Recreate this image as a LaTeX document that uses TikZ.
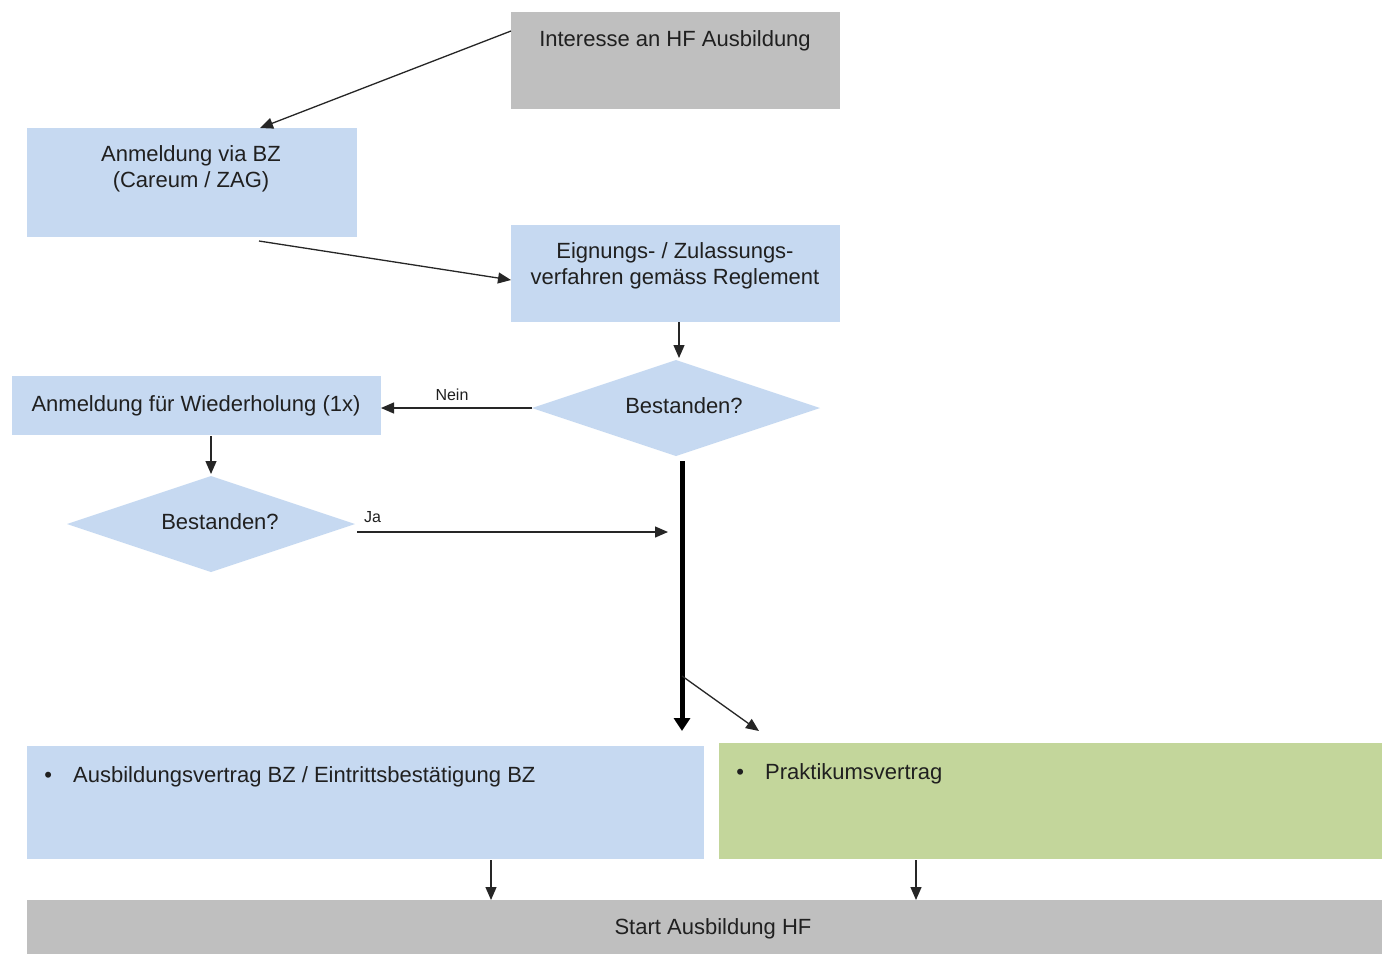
\documentclass[tikz,border=0pt]{standalone}
\usepackage{fontspec}
\setmainfont{Liberation Sans}
\usetikzlibrary{shapes.geometric,arrows.meta,calc}
\definecolor{boxblue}{HTML}{C6D9F1}
\definecolor{boxgray}{HTML}{BFBFBF}
\definecolor{boxgreen}{HTML}{C3D69B}
\definecolor{txtcol}{HTML}{202020}
\begin{document}
\begin{tikzpicture}[x=1pt,y=-1pt,
  box/.style={draw=none,inner sep=0pt,outer sep=0pt,anchor=north west},
  txt/.style={inner sep=0pt,text=txtcol,font=\fontsize{22}{25.5}\selectfont,align=center},
  small/.style={inner sep=0pt,text=txtcol,font=\fontsize{16}{18}\selectfont},
  dia/.style={diamond,fill=boxblue,draw=none,inner sep=0pt,outer sep=0pt,minimum width=288pt,minimum height=96pt},
  arr/.style={draw=black!85,line width=1.3pt,-{Triangle[length=13pt,width=11pt]}},
  thick arr/.style={draw=black,line width=5pt,-{Triangle[length=13pt,width=16pt]}}]
\useasboundingbox (0,0) rectangle (1382,954);
\fill[white] (0,0) rectangle (1382,954);

% boxes
\node[box,fill=boxgray,minimum width=329pt,minimum height=97pt] (interest) at (511,12) {};
\node[txt] (interestT) at (675,41) {Interesse an HF Ausbildung};

\node[box,fill=boxblue,minimum width=330pt,minimum height=109pt] (anm) at (27,128) {};
\node[txt] (anmT) at (191,169) {Anmeldung via BZ\\(Careum / ZAG)};

\node[box,fill=boxblue,minimum width=329pt,minimum height=97pt] (eig) at (511,225) {};
\node[txt] (eigT) at (675,266) {Eignungs- / Zulassungs-\\verfahren gemäss Reglement};

\node[dia] (best1) at (676,408) {};
\node[txt] (best1T) at (684,406) {Bestanden?};

\node[box,fill=boxblue,minimum width=369pt,minimum height=59pt] (wied) at (12,376) {};
\node[txt] (wiedT) at (196,406) {Anmeldung für Wiederholung (1x)};

\node[dia] (best2) at (211,524) {};
\node[txt] (best2T) at (220,522) {Bestanden?};

\node[box,fill=boxblue,minimum width=677pt,minimum height=113pt] (vertrag) at (27,746) {};
\node[txt,anchor=west] (vertragT) at (34,777) {\makebox[28pt][c]{\textbullet}\hspace{11pt}Ausbildungsvertrag BZ / Eintrittsbestätigung BZ};

\node[box,fill=boxgreen,minimum width=663pt,minimum height=116pt] (prak) at (719,743) {};
\node[txt,anchor=west] (prakT) at (726,774) {\makebox[28pt][c]{\textbullet}\hspace{11pt}Praktikumsvertrag};

\node[box,fill=boxgray,minimum width=1355pt,minimum height=54pt] (start) at (27,900) {};
\node[txt] (startT) at (713,929) {Start Ausbildung HF};

% connectors
\draw[arr] ($(interest.north west)+(0,19)$) -- ($(anm.north west)+(233,0)$);
\draw[arr] ($(anm.south west)+(232,4)$) -- ($(eig.north west)+(0,55)$);
\draw[arr] ($(eig.south west)+(168,0)$) -- ($(best1.north)+(3,-2)$);
\draw[arr] (best1.west) -- (wied.east |- best1.west) node[small,pos=0.53,above=7pt] (nein) {Nein};
\draw[arr] ($(wied.south west)+(199,1)$) -- ($(best2.north)+(0,-2)$);

\coordinate (trunkTop) at ($(best1.south)+(6,5)$);
\coordinate (trunkEnd) at ($(vertrag.north east)+(-22,-15)$);
\coordinate (branch) at ($(trunkTop)+(0,215)$);
\draw[thick arr] (trunkTop) -- (trunkTop |- trunkEnd);
\draw[arr] (branch) -- ($(prak.north west)+(40,-12)$);
\draw[arr] ($(best2.east)+(2,8)$) -- ($(trunkTop |- best2.east)+(-14,8)$) node[small,pos=0.05,above=9pt] (ja) {Ja};

\draw[arr] ($(vertrag.south west)+(464,1)$) -- ($(start.north west)+(464,0)$);
\draw[arr] ($(prak.south west)+(197,1)$) -- ($(start.north west)+(889,0)$);
\end{tikzpicture}
\end{document}
